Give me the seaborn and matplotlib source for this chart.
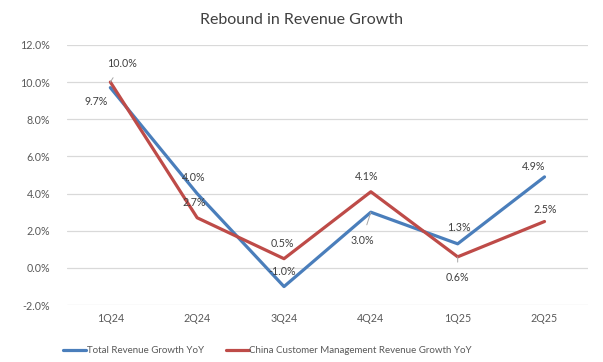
import pandas as pd
import seaborn as sns
import matplotlib.pyplot as plt

quarters = ['1Q24', '2Q24', '3Q24', '4Q24', '1Q25', '2Q25']
total_growth = [9.7, 4.0, -1.0, 3.0, 1.3, 4.9]
cmr_growth = [10.0, 2.7, 0.5, 4.1, 0.6, 2.5]
series_names = ['Total Revenue Growth YoY', 'China Customer Management Revenue Growth YoY']

# label offsets in pixels (dx, dy) per point
total_offsets = [(-14, -14), (-3, 16), (-2, 15), (-9, -28), (1, 16), (-11, 10)]
cmr_offsets = [(12, 19), (-3, 15), (-2, 15), (-4, 15), (0, -21), (1, 12)]

df = pd.DataFrame({
    'quarter': quarters * 2,
    'growth': total_growth + cmr_growth,
    'series': [series_names[0]] * 6 + [series_names[1]] * 6,
})

sns.set_style('white')
plt.rcParams['font.family'] = ['Lato', 'DejaVu Sans']

colors = ['#4A7EBB', '#BE4B48']
fig = plt.figure(figsize=(6.03, 3.62), dpi=100)
ax = fig.add_axes([0.111, 0.157, 0.864, 0.719])

sns.lineplot(data=df, x='quarter', y='growth', hue='series', palette=colors,
             linewidth=2.3, sort=False, ax=ax, legend=False)

ax.set_xlim(-0.5, 5.5)
ax.set_ylim(-2, 12)
ax.set_yticks(range(-2, 13, 2))
ax.set_yticklabels([f'{v:.1f}%' for v in range(-2, 13, 2)])
ax.grid(axis='y', color='#D9D9D9', linewidth=0.9)
ax.set_axisbelow(True)
for s in ax.spines.values():
    s.set_visible(False)
ax.tick_params(axis='both', length=0, labelsize=7.7, colors='#595959', pad=6)
ax.tick_params(axis='y', pad=12)
ax.set_xlabel('')
ax.set_ylabel('')

for vals, offs in [(total_growth, total_offsets), (cmr_growth, cmr_offsets)]:
    for i, (v, (dx, dy)) in enumerate(zip(vals, offs)):
        leader = abs(dy) > 18
        ax.annotate(f'{v:.1f}%', xy=(i, v), xytext=(dx, dy), textcoords='offset pixels',
                    ha='center', va='center', fontsize=7.7, color='#404040',
                    arrowprops=dict(arrowstyle='-', color='#A6A6A6', lw=0.7,
                                    shrinkA=5, shrinkB=0) if leader else None)

fig.suptitle('Rebound in Revenue Growth', x=0.5, y=0.965, fontsize=11.5, color='#404040')

handles = [plt.Line2D([], [], color=c, linewidth=2.3) for c in colors]
fig.legend(handles, series_names, loc='lower center', bbox_to_anchor=(0.444, -0.005), ncol=2,
           frameon=False, fontsize=7.0, handlelength=2.3, handletextpad=0.1,
           columnspacing=2.3, labelcolor='#595959')

fig.savefig('out.png', dpi=100)
